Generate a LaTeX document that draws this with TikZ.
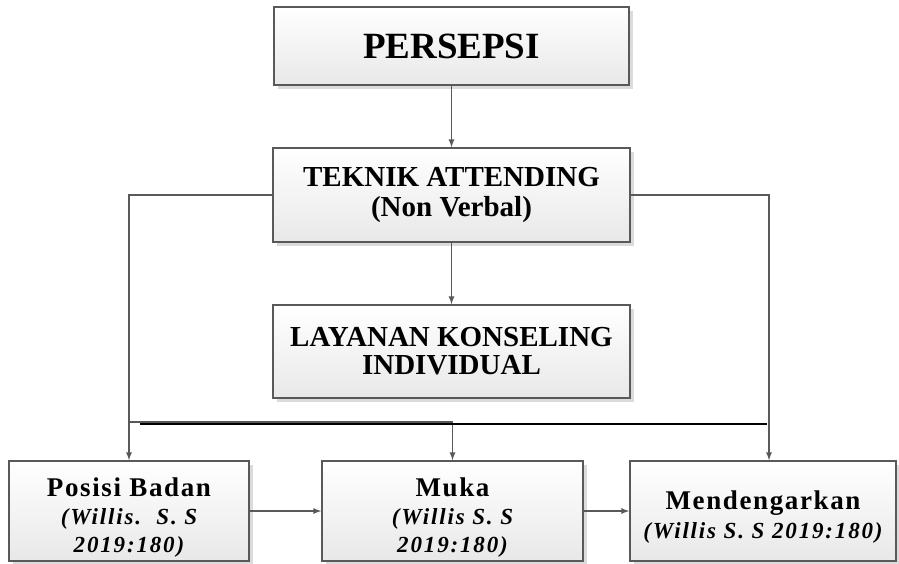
\documentclass[tikz,border=0pt]{standalone}
\usepackage{xcolor}
\usepackage{fontspec}
\setmainfont{Liberation Serif}
\newfontfamily\renggang[LetterSpace=6]{Liberation Serif}
\newfontfamily\renggangmiring[LetterSpace=8]{Liberation Serif}
\newcommand{\kutip}[1]{{\fontsize{23}{28}\renggangmiring\bfseries\itshape #1}}
\newcommand{\turun}{\rule{0pt}{31pt}}
\usepackage{tikz}
\usetikzlibrary{arrows, positioning, calc, shadows}
\definecolor{garis}{HTML}{595959}

\begin{document}
\begin{tikzpicture}[x=1pt, y=-1pt, >=latex,
    kotak/.style={draw=garis, line width=1.6pt, top color=white, bottom color=black!9,
        drop shadow={shadow xshift=4pt, shadow yshift=-4pt, fill=black!14, opacity=1},
        align=center, inner sep=2pt, font=\bfseries},
    panah/.style={->, draw=garis, line width=1.7pt},
    ]
    \useasboundingbox (0,0) rectangle (899,563);
    \node[kotak, minimum width=355pt, minimum height=78pt, font=\fontsize{37}{40}\selectfont\bfseries] (persepsi) at (451.5,46) {PERSEPSI};
    \node[kotak, minimum width=357pt, minimum height=94pt, font=\fontsize{29}{30}\selectfont\bfseries] (teknik) at (451.5,195) {TEKNIK ATTENDING\\(Non Verbal)};
    \node[kotak, minimum width=357pt, minimum height=93pt, font=\fontsize{29}{28}\selectfont\bfseries] (layanan) at (451.5,351.5) {LAYANAN KONSELING\\INDIVIDUAL};
    \node[kotak, minimum width=240pt, minimum height=100pt, font=\fontsize{27}{28}\renggang\bfseries] (posisi) at (129,511)
        {\turun Posisi Badan\\\kutip{(Willis.\ \ S. S}\\\kutip{2019:180)}};
    \node[kotak, minimum width=261pt, minimum height=100pt, font=\fontsize{27}{28}\renggang\bfseries] (muka) at (452.5,511)
        {\turun Muka\\\kutip{(Willis S. S}\\\kutip{2019:180)}};
    \node[kotak, minimum width=266pt, minimum height=100pt, font=\fontsize{27}{29}\renggang\bfseries] (dengar) at (763,511)
        {\turun Mendengarkan\\\kutip{(Willis S. S 2019:180)}};
    % garis penghubung
    \coordinate (cabang) at (129,422);
    \coordinate (hitamA) at (140,424);
    \coordinate (hitamB) at (767,424);
    \draw[panah] (persepsi) -- (teknik);
    \draw[panah] (teknik) -- (layanan);
    \draw[panah] (teknik.west) -| (posisi.north);
    \draw[panah] (teknik.east) -| ([xshift=6pt]dengar.north);
    \draw[panah] (cabang) -| (muka.north);
    \draw[black, line width=2.2pt] (hitamA) -- (hitamB);
    \draw[panah] (posisi) -- (muka);
    \draw[panah] (muka) -- (dengar);
\end{tikzpicture}
\end{document}
